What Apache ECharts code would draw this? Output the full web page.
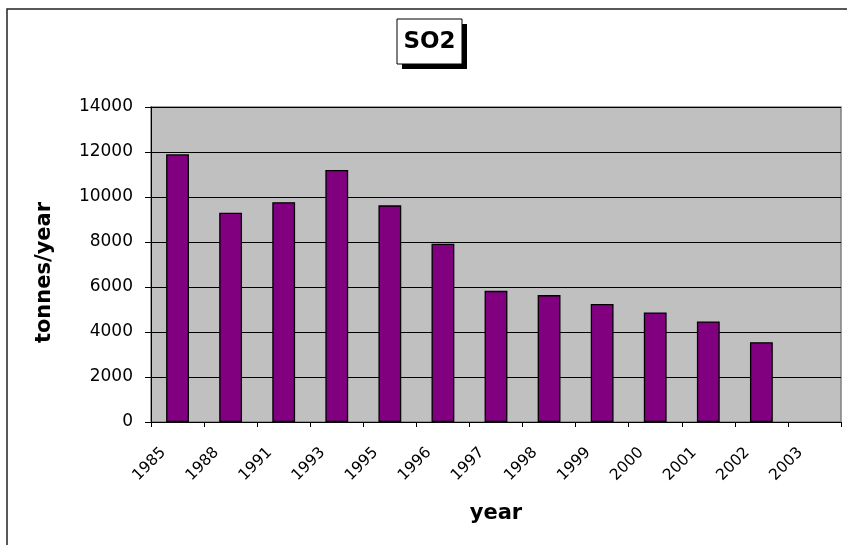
<!DOCTYPE html>
<html>
<head>
<meta charset="utf-8">
<script src="https://cdn.jsdelivr.net/npm/echarts@6/dist/echarts.min.js"></script>
<style>
html,body{margin:0;padding:0;background:#fff;}
#chart{width:847px;height:545px;}
</style>
</head>
<body>
<div id="chart"></div>
<script>
const years = ['1985','1988','1991','1993','1995','1996','1997','1998','1999','2000','2001','2002','2003'];
const so2 = [11900, 9300, 9770, 11200, 9630, 7920, 5830, 5640, 5250, 4870, 4470, 3550, null];
const yTicks = { min: 0, max: 14000, interval: 2000 };
const titleText = 'SO2';
const xName = 'year';
const yName = 'tonnes/year';

const FONT = 'DejaVu Sans';
const chart = echarts.init(document.getElementById('chart'), null, { renderer: 'canvas' });
chart.setOption({
  animation: false,
  backgroundColor: '#ffffff',
  graphic: [
    { type: 'rect', shape: { x: 7, y: 9, width: 900, height: 600 }, style: { fill: 'none', stroke: '#222', lineWidth: 1.5 }, silent: true, z: 0 },
    { type: 'rect', shape: { x: 402, y: 24, width: 65, height: 45 }, style: { fill: '#000' }, silent: true, z: 10 },
    { type: 'rect', shape: { x: 397, y: 19, width: 65, height: 45 }, style: { fill: '#fff', stroke: '#000', lineWidth: 1 }, silent: true, z: 11 },
    { type: 'text', x: 429.5, y: 42, style: { text: titleText, font: 'bold 23px "DejaVu Sans"', fill: '#000', align: 'center', verticalAlign: 'middle' }, z: 12 }
  ],
  grid: {
    left: 151, right: 6, top: 107, bottom: 123,
    show: true, backgroundColor: '#c0c0c0', borderColor: '#808080', borderWidth: 1.5,
    containLabel: false
  },
  xAxis: {
    type: 'category',
    data: years,
    boundaryGap: true,
    name: xName,
    nameLocation: 'middle',
    nameGap: 81,
    nameTextStyle: { fontFamily: FONT, fontWeight: 'bold', fontSize: 21, color: '#000' },
    axisLine: { show: true, lineStyle: { color: '#000', width: 1 } },
    axisTick: { show: true, length: 5, lineStyle: { color: '#000' } },
    axisLabel: { rotate: 45, margin: 14, padding: [0, 20, 0, 0], fontFamily: FONT, fontSize: 15.5, color: '#000', interval: 0 },
    splitLine: { show: false }
  },
  yAxis: {
    type: 'value',
    min: yTicks.min, max: yTicks.max, interval: yTicks.interval,
    name: yName,
    nameLocation: 'middle',
    nameGap: 96,
    nameTextStyle: { fontFamily: FONT, fontWeight: 'bold', fontSize: 21, color: '#000', padding: [0, 16, 0, 0] },
    axisLine: { show: true, lineStyle: { color: '#000', width: 1 } },
    axisTick: { show: true, length: 6, lineStyle: { color: '#000' } },
    axisLabel: { margin: 18, fontFamily: FONT, fontSize: 17, color: '#000', formatter: v => String(v) },
    splitLine: { show: true, lineStyle: { color: '#000', width: 1 } }
  },
  series: [{
    type: 'bar',
    data: so2,
    barWidth: '43%',
    itemStyle: { color: '#800080', borderColor: '#000', borderWidth: 1.3 }
  }]
});
</script>
</body>
</html>
